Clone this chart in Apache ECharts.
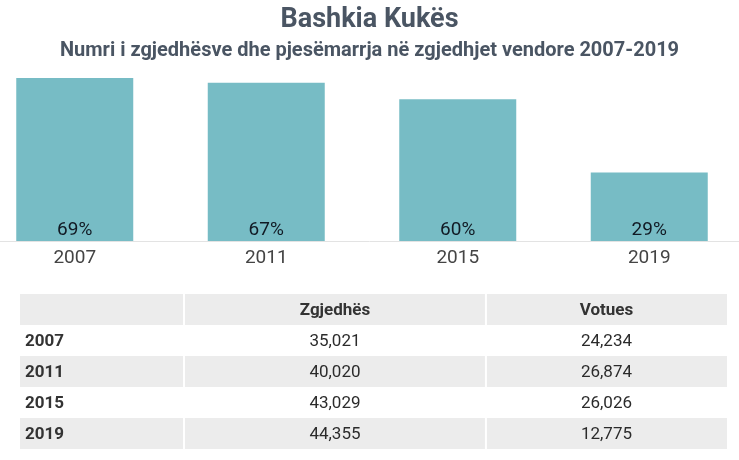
<!DOCTYPE html>
<html>
<head>
  <meta charset="utf-8">
  <style type="text/css">
    body, html, #main {
      height: 100%;
      width: 100%;
      margin: 0;
      background: #fff;
    }
  </style>
  <title>Bashkia Kukës</title>
  <script src="https://cdn.jsdelivr.net/npm/echarts@6/dist/echarts.min.js"></script>
</head>
<body>
  <div id="main"></div>
  <script>
    // data
    var years = ['2007', '2011', '2015', '2019'];
    var turnout = [69, 67, 60, 29];
    var voters = [35021, 40020, 43029, 44355];
    var votes = [24234, 26874, 26026, 12775];
    var tableHeaders = ['', 'Zgjedhës', 'Votues'];

    var FONT = 'Roboto, "Noto Sans", sans-serif';
    var TEXT = '#333';
    var BAND = '#ececec';
    // column edges of the table, as fractions of its width
    var colEdges = [0, 0.232, 0.659, 1];

    var tableRows = [tableHeaders].concat(years.map(function (y, i) {
      return [y, voters[i].toLocaleString('en-US'), votes[i].toLocaleString('en-US')];
    }));

    function renderRow(params, api) {
      var r = api.value(0);
      var cells = tableRows[r];
      var top = api.coord([0, r]);
      var h = api.size([0, 1])[1];
      var y0 = top[1] - h / 2;
      var children = [];
      for (var c = 0; c < 3; c++) {
        var x0 = api.coord([colEdges[c], r])[0];
        var x1 = api.coord([colEdges[c + 1], r])[0];
        if (r % 2 === 0) {
          children.push({
            type: 'rect',
            shape: { x: x0 + (c > 0 ? 1 : 0), y: y0, width: x1 - x0 - (c > 0 ? 1 : 0) - (c < 2 ? 1 : 0), height: h },
            style: { fill: BAND }
          });
        }
        var bold = r === 0 || c === 0;
        children.push({
          type: 'text',
          style: {
            x: c === 0 ? x0 + 5 : (x0 + x1) / 2,
            y: top[1] + 1,
            text: cells[c],
            align: c === 0 ? 'left' : 'center',
            verticalAlign: 'middle',
            fill: bold ? TEXT : '#2b2b2b',
            font: (bold ? 'bold ' : '') + '17px ' + FONT
          }
        });
      }
      return { type: 'group', children: children };
    }

    var chart = echarts.init(document.getElementById('main'), null, { renderer: 'canvas' });
    chart.setOption({
      animation: false,
      title: [
        {
          text: 'Bashkia Kukës',
          left: 'center', top: 2,
          textStyle: { fontFamily: FONT, fontSize: 27, fontWeight: 'bold', color: '#4a5563' }
        },
        {
          text: 'Numri i zgjedhësve dhe pjesëmarrja në zgjedhjet vendore 2007-2019',
          left: 'center', top: 36,
          textStyle: { fontFamily: FONT, fontSize: 20, fontWeight: 'bold', color: '#4a5563' }
        }
      ],
      grid: [
        { left: -21, right: -6, top: 78, bottom: 219, outerBoundsMode: 'none' },
        { left: 20, right: 12, top: 294, height: 155 }
      ],
      xAxis: [
        {
          type: 'category', gridIndex: 0, data: years,
          axisLine: { lineStyle: { color: '#e3e3e3', width: 1 } },
          axisTick: { show: false },
          axisLabel: { margin: 8, fontFamily: FONT, fontSize: 19, color: '#444' }
        },
        { type: 'value', gridIndex: 1, min: 0, max: 1, show: false }
      ],
      yAxis: [
        { type: 'value', gridIndex: 0, min: 0, max: 'dataMax', show: false, splitLine: { show: false } },
        { type: 'category', gridIndex: 1, inverse: true, data: tableRows.map(function (r, i) { return String(i); }), show: false }
      ],
      series: [
        {
          type: 'bar', xAxisIndex: 0, yAxisIndex: 0,
          data: turnout,
          barWidth: 117,
          itemStyle: { color: '#77bcc5' },
          label: {
            show: true, position: 'insideBottom', distance: 1,
            formatter: '{c}%',
            fontFamily: FONT, fontSize: 19, color: '#111a24'
          }
        },
        {
          type: 'custom', xAxisIndex: 1, yAxisIndex: 1,
          data: tableRows.map(function (r, i) { return [i]; }),
          encode: { y: 0 },
          renderItem: renderRow
        }
      ]
    });
  </script>
</body>
</html>
